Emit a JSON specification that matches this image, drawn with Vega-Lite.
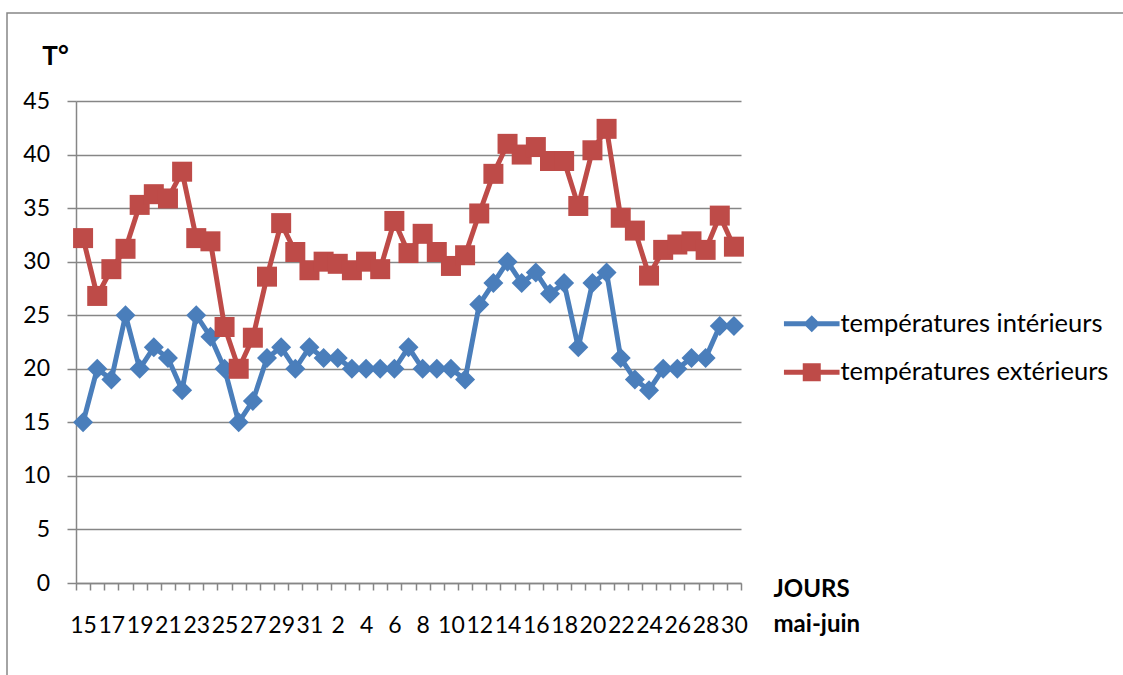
{
  "$schema": "https://vega.github.io/schema/vega-lite/v6.json",
  "usermeta": {"embedOptions": {"actions": false}},
  "width": 1135,
  "height": 685,
  "autosize": {"type": "none"},
  "padding": {"left": 7, "top": 13, "right": -19, "bottom": -23},
  "background": "white",
  "data": {
    "values": [
      {"jour": 1, "serie": "températures intérieurs", "temperature": 15},
      {"jour": 2, "serie": "températures intérieurs", "temperature": 20},
      {"jour": 3, "serie": "températures intérieurs", "temperature": 19},
      {"jour": 4, "serie": "températures intérieurs", "temperature": 25},
      {"jour": 5, "serie": "températures intérieurs", "temperature": 20},
      {"jour": 6, "serie": "températures intérieurs", "temperature": 22},
      {"jour": 7, "serie": "températures intérieurs", "temperature": 21},
      {"jour": 8, "serie": "températures intérieurs", "temperature": 18},
      {"jour": 9, "serie": "températures intérieurs", "temperature": 25},
      {"jour": 10, "serie": "températures intérieurs", "temperature": 23},
      {"jour": 11, "serie": "températures intérieurs", "temperature": 20},
      {"jour": 12, "serie": "températures intérieurs", "temperature": 15},
      {"jour": 13, "serie": "températures intérieurs", "temperature": 17},
      {"jour": 14, "serie": "températures intérieurs", "temperature": 21},
      {"jour": 15, "serie": "températures intérieurs", "temperature": 22},
      {"jour": 16, "serie": "températures intérieurs", "temperature": 20},
      {"jour": 17, "serie": "températures intérieurs", "temperature": 22},
      {"jour": 18, "serie": "températures intérieurs", "temperature": 21},
      {"jour": 19, "serie": "températures intérieurs", "temperature": 21},
      {"jour": 20, "serie": "températures intérieurs", "temperature": 20},
      {"jour": 21, "serie": "températures intérieurs", "temperature": 20},
      {"jour": 22, "serie": "températures intérieurs", "temperature": 20},
      {"jour": 23, "serie": "températures intérieurs", "temperature": 20},
      {"jour": 24, "serie": "températures intérieurs", "temperature": 22},
      {"jour": 25, "serie": "températures intérieurs", "temperature": 20},
      {"jour": 26, "serie": "températures intérieurs", "temperature": 20},
      {"jour": 27, "serie": "températures intérieurs", "temperature": 20},
      {"jour": 28, "serie": "températures intérieurs", "temperature": 19},
      {"jour": 29, "serie": "températures intérieurs", "temperature": 26},
      {"jour": 30, "serie": "températures intérieurs", "temperature": 28},
      {"jour": 31, "serie": "températures intérieurs", "temperature": 30},
      {"jour": 32, "serie": "températures intérieurs", "temperature": 28},
      {"jour": 33, "serie": "températures intérieurs", "temperature": 29},
      {"jour": 34, "serie": "températures intérieurs", "temperature": 27},
      {"jour": 35, "serie": "températures intérieurs", "temperature": 28},
      {"jour": 36, "serie": "températures intérieurs", "temperature": 22},
      {"jour": 37, "serie": "températures intérieurs", "temperature": 28},
      {"jour": 38, "serie": "températures intérieurs", "temperature": 29},
      {"jour": 39, "serie": "températures intérieurs", "temperature": 21},
      {"jour": 40, "serie": "températures intérieurs", "temperature": 19},
      {"jour": 41, "serie": "températures intérieurs", "temperature": 18},
      {"jour": 42, "serie": "températures intérieurs", "temperature": 20},
      {"jour": 43, "serie": "températures intérieurs", "temperature": 20},
      {"jour": 44, "serie": "températures intérieurs", "temperature": 21},
      {"jour": 45, "serie": "températures intérieurs", "temperature": 21},
      {"jour": 46, "serie": "températures intérieurs", "temperature": 24},
      {"jour": 47, "serie": "températures intérieurs", "temperature": 24},
      {"jour": 1, "serie": "températures extérieurs", "temperature": 32.2},
      {"jour": 2, "serie": "températures extérieurs", "temperature": 26.8},
      {"jour": 3, "serie": "températures extérieurs", "temperature": 29.3},
      {"jour": 4, "serie": "températures extérieurs", "temperature": 31.2},
      {"jour": 5, "serie": "températures extérieurs", "temperature": 35.3},
      {"jour": 6, "serie": "températures extérieurs", "temperature": 36.3},
      {"jour": 7, "serie": "températures extérieurs", "temperature": 35.9},
      {"jour": 8, "serie": "températures extérieurs", "temperature": 38.4},
      {"jour": 9, "serie": "températures extérieurs", "temperature": 32.2},
      {"jour": 10, "serie": "températures extérieurs", "temperature": 31.9},
      {"jour": 11, "serie": "températures extérieurs", "temperature": 23.9},
      {"jour": 12, "serie": "températures extérieurs", "temperature": 20.0},
      {"jour": 13, "serie": "températures extérieurs", "temperature": 22.9},
      {"jour": 14, "serie": "températures extérieurs", "temperature": 28.6},
      {"jour": 15, "serie": "températures extérieurs", "temperature": 33.6},
      {"jour": 16, "serie": "températures extérieurs", "temperature": 30.9},
      {"jour": 17, "serie": "températures extérieurs", "temperature": 29.2},
      {"jour": 18, "serie": "températures extérieurs", "temperature": 30.0},
      {"jour": 19, "serie": "températures extérieurs", "temperature": 29.8},
      {"jour": 20, "serie": "températures extérieurs", "temperature": 29.2},
      {"jour": 21, "serie": "températures extérieurs", "temperature": 30.0},
      {"jour": 22, "serie": "températures extérieurs", "temperature": 29.3},
      {"jour": 23, "serie": "températures extérieurs", "temperature": 33.8},
      {"jour": 24, "serie": "températures extérieurs", "temperature": 30.8},
      {"jour": 25, "serie": "températures extérieurs", "temperature": 32.6},
      {"jour": 26, "serie": "températures extérieurs", "temperature": 30.9},
      {"jour": 27, "serie": "températures extérieurs", "temperature": 29.6},
      {"jour": 28, "serie": "températures extérieurs", "temperature": 30.6},
      {"jour": 29, "serie": "températures extérieurs", "temperature": 34.5},
      {"jour": 30, "serie": "températures extérieurs", "temperature": 38.2},
      {"jour": 31, "serie": "températures extérieurs", "temperature": 41.0},
      {"jour": 32, "serie": "températures extérieurs", "temperature": 40.0},
      {"jour": 33, "serie": "températures extérieurs", "temperature": 40.7},
      {"jour": 34, "serie": "températures extérieurs", "temperature": 39.4},
      {"jour": 35, "serie": "températures extérieurs", "temperature": 39.4},
      {"jour": 36, "serie": "températures extérieurs", "temperature": 35.2},
      {"jour": 37, "serie": "températures extérieurs", "temperature": 40.4},
      {"jour": 38, "serie": "températures extérieurs", "temperature": 42.4},
      {"jour": 39, "serie": "températures extérieurs", "temperature": 34.1},
      {"jour": 40, "serie": "températures extérieurs", "temperature": 32.9},
      {"jour": 41, "serie": "températures extérieurs", "temperature": 28.7},
      {"jour": 42, "serie": "températures extérieurs", "temperature": 31.1},
      {"jour": 43, "serie": "températures extérieurs", "temperature": 31.6},
      {"jour": 44, "serie": "températures extérieurs", "temperature": 31.9},
      {"jour": 45, "serie": "températures extérieurs", "temperature": 31.1},
      {"jour": 46, "serie": "températures extérieurs", "temperature": 34.3},
      {"jour": 47, "serie": "températures extérieurs", "temperature": 31.4}
    ]
  },
  "encoding": {
    "x": {
      "field": "jour",
      "type": "quantitative",
      "scale": {"domain": [0.5, 47.5], "range": [69, 734], "nice": false, "zero": false},
      "axis": {
        "orient": "bottom",
        "offset": -115,
        "values": [0.5, 1.5, 2.5, 3.5, 4.5, 5.5, 6.5, 7.5, 8.5, 9.5, 10.5, 11.5, 12.5, 13.5, 14.5, 15.5, 16.5, 17.5, 18.5, 19.5, 20.5, 21.5, 22.5, 23.5, 24.5, 25.5, 26.5, 27.5, 28.5, 29.5, 30.5, 31.5, 32.5, 33.5, 34.5, 35.5, 36.5, 37.5, 38.5, 39.5, 40.5, 41.5, 42.5, 43.5, 44.5, 45.5, 46.5, 47.5],
        "grid": false,
        "tickSize": 7,
        "labelExpr": "(datum.value + 0.5) % 2 == 1 ? ((datum.value + 0.5) <= 17 ? '' + (datum.value + 14.5) : '' + (datum.value - 16.5)) : ''",
        "labelOffset": 7.074,
        "labelOverlap": false,
        "labelFlush": false,
        "labelBound": false,
        "labelPadding": 24,
        "labelFontSize": 23,
        "title": ["JOURS", "mai-juin"],
        "titleX": 766,
        "titleY": 13,
        "titleAlign": "left",
        "titleBaseline": "alphabetic",
        "titleFontSize": 24,
        "titleFontWeight": "bold",
        "titleLineHeight": 35
      }
    },
    "y": {
      "field": "temperature",
      "type": "quantitative",
      "scale": {"domain": [0, 45], "range": [570, 88], "nice": false, "zero": false},
      "axis": {
        "offset": -69,
        "values": [0, 5, 10, 15, 20, 25, 30, 35, 40, 45],
        "grid": true,
        "tickSize": 9,
        "labelPadding": 17.5,
        "labelFontSize": 23,
        "title": "T°",
        "titleAngle": 0,
        "titleX": -21,
        "titleY": 51,
        "titleAlign": "center",
        "titleBaseline": "alphabetic",
        "titleFontSize": 26,
        "titleFontWeight": "bold"
      }
    }
  },
  "layer": [
    {
      "mark": {"type": "line", "strokeWidth": 5},
      "encoding": {
        "color": {
          "field": "serie",
          "type": "nominal",
          "scale": {"domain": ["températures intérieurs", "températures extérieurs"], "range": ["#4A7EBB", "#BE4B48"]},
          "legend": {
            "orient": "none",
            "legendX": 792,
            "legendY": 298,
            "title": null,
            "padding": 0,
            "symbolSize": 400,
            "labelFontSize": 25.5,
            "labelOffset": 16,
            "rowPadding": 21.5,
            "labelColor": "#000000",
            "labelLimit": 400,
            "encode": {
              "symbols": {
                "update": {
                  "shape": [
                    {"test": "datum.value === 'températures intérieurs'", "value": "M-2.78,-0.25L-0.6,-0.25L0,-0.85L0.6,-0.25L2.78,-0.25L2.78,0.25L0.6,0.25L0,0.85L-0.6,0.25L-2.78,0.25Z"},
                    {"value": "M-2.78,-0.25L-0.9,-0.25L-0.9,-0.9L0.9,-0.9L0.9,-0.25L2.78,-0.25L2.78,0.25L0.9,0.25L0.9,0.9L-0.9,0.9L-0.9,0.25L-2.78,0.25Z"}
                  ],
                  "fill": [
                    {"test": "datum.value === 'températures intérieurs'", "value": "#4A7EBB"},
                    {"value": "#BE4B48"}
                  ],
                  "stroke": {"value": "transparent"},
                  "strokeWidth": {"value": 0},
                  "opacity": {"value": 1}
                }
              }
            }
          }
        }
      }
    },
    {
      "transform": [{"filter": "datum.serie === 'températures intérieurs'"}],
      "mark": {"type": "point", "shape": "diamond", "filled": true, "size": 400, "opacity": 1, "strokeWidth": 0, "color": "#4A7EBB"}
    },
    {
      "transform": [{"filter": "datum.serie === 'températures extérieurs'"}],
      "mark": {"type": "point", "shape": "square", "filled": true, "size": 400, "opacity": 1, "strokeWidth": 0, "color": "#BE4B48"}
    }
  ],
  "config": {
    "font": "Lato",
    "view": {"stroke": "#868686", "strokeWidth": 1.5},
    "axis": {
      "domainColor": "#868686",
      "domainWidth": 1.5,
      "tickColor": "#868686",
      "tickWidth": 1.5,
      "gridColor": "#868686",
      "gridWidth": 1.3,
      "gridOpacity": 1,
      "labelColor": "#000000",
      "titleColor": "#000000",
      "labelFont": "Lato",
      "titleFont": "Lato"
    },
    "legend": {"labelFont": "Lato"}
  }
}
